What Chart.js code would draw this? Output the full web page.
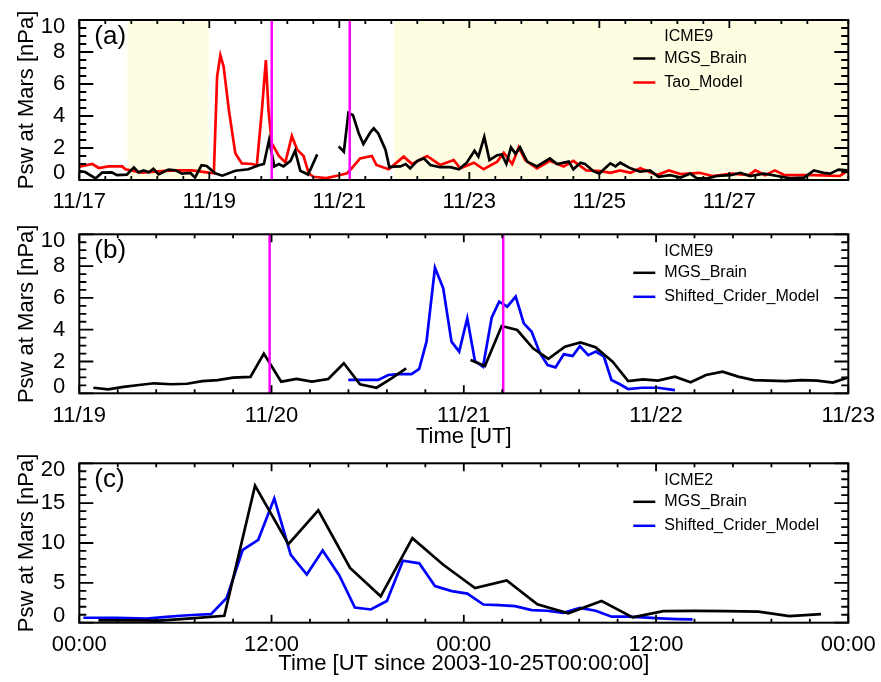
<!DOCTYPE html>
<html>
<head>
<meta charset="utf-8">
<script src="https://cdn.jsdelivr.net/npm/chart.js@4.4.0/dist/chart.umd.min.js"></script>
<style>
  html, body { margin: 0; padding: 0; background: #fff; }
  #wrap { position: relative; width: 881px; height: 682px; }
  #wrap canvas { position: absolute; left: 0; top: 0; }
</style>
</head>
<body>
<div id="wrap">
  <canvas id="chartA" width="881" height="682"></canvas>
  <canvas id="chartB" width="881" height="682"></canvas>
  <canvas id="chartC" width="881" height="682"></canvas>
</div>
<script>
// panel (a): days since 11/17 00:00
const brainA_t = [0,0.09,0.25,0.35,0.5,0.58,0.73,0.84,0.91,0.99,1.07,1.14,1.22,1.37,1.48,1.58,1.71,1.78,1.88,1.96,2.09,2.2,2.4,2.6,2.76,2.84,2.92,3.0,3.07,3.14,3.25,3.32,3.4,3.48,3.52,3.66,3.8,3.99,4.07,4.14,4.21,4.3,4.37,4.48,4.53,4.6,4.71,4.77,4.84,4.94,5.02,5.09,5.2,5.3,5.4,5.55,5.71,5.84,5.96,6.08,6.14,6.23,6.31,6.43,6.5,6.57,6.64,6.71,6.78,6.89,7.04,7.24,7.35,7.53,7.6,7.71,7.78,7.91,8.0,8.17,8.25,8.32,8.48,8.63,8.78,8.91,9.09,9.25,9.4,9.5,9.66,9.81,10.02,10.17,10.32,10.53,10.74,10.94,11.15,11.3,11.45,11.55,11.68,11.81];
const brainA_p = [0.56,0.5,0.1,0.46,0.48,0.3,0.33,0.79,0.48,0.6,0.48,0.7,0.35,0.65,0.6,0.4,0.44,0.15,0.92,0.88,0.42,0.27,0.58,0.67,0.92,1.0,2.5,0.85,1.0,0.85,1.2,1.83,0.58,0.42,0.33,1.6,null,2.1,1.77,4.2,4.05,2.9,2.25,3.0,3.23,2.9,1.9,0.8,0.83,0.85,1.0,0.73,1.2,1.35,0.94,0.8,0.8,0.67,1.08,1.83,1.46,2.7,1.25,1.55,1.6,1.0,2.04,1.65,2.04,1.15,0.85,1.35,1.0,1.15,0.67,1.08,1.0,0.55,0.4,1.04,0.85,1.08,0.73,0.52,0.6,0.2,0.3,0.15,0.4,0.1,0.1,0.25,0.3,0.45,0.25,0.4,0.25,0.1,0.15,0.6,0.45,0.4,0.65,0.6];
const taoA_t = [0,0.2,0.3,0.45,0.66,0.71,0.96,1.27,1.48,1.73,1.99,2.07,2.12,2.17,2.22,2.3,2.4,2.5,2.66,2.73,2.81,2.87,2.91,2.96,3.07,3.17,3.27,3.35,3.45,3.53,3.6,3.8,4.0,4.12,4.19,4.32,4.5,4.57,4.76,4.99,5.12,5.35,5.55,5.76,5.86,6.07,6.22,6.43,6.53,6.66,6.76,6.86,7.04,7.24,7.45,7.6,7.8,8.02,8.17,8.32,8.48,8.63,8.89,9.07,9.25,9.54,9.74,10.05,10.3,10.4,10.55,10.7,10.85,11.3,11.7,11.83];
const taoA_p = [0.83,1.0,0.75,0.85,0.85,0.67,0.46,0.55,0.6,0.6,0.46,0.42,6.46,7.8,7.1,4.4,1.67,1.04,1.0,0.9,4.4,7.5,4.4,2.3,1.5,1.1,2.75,1.9,1.5,0.42,0.2,0.12,0.3,0.42,0.73,1.35,1.5,0.94,0.67,1.46,1.0,1.5,0.94,1.25,0.73,1.08,0.67,1.15,1.7,1.0,2.04,1.25,0.73,1.2,0.85,1.2,0.6,0.55,0.45,0.6,0.45,0.73,0.31,0.6,0.37,0.45,0.25,0.4,0.3,0.6,0.3,0.6,0.3,0.3,0.25,0.6];
const shadeA = [[0.74, 1.99], [4.845, 11.83]];
const marksA = [2.96, 4.16];
const labelsA = ['11/17', '11/19', '11/21', '11/23', '11/25', '11/27'];

// panel (b): days since 11/19 00:00
const brainB_t = [0.073,0.15,0.23,0.31,0.39,0.48,0.56,0.64,0.72,0.8,0.89,0.96,1.05,1.13,1.21,1.295,1.376,1.46,1.546,1.624,1.70,1.85,2.035,2.11,2.197,2.278,2.36,2.44,2.526,2.607,2.685,2.774,2.855,2.933,3.01,3.098,3.18,3.26,3.346,3.427,3.509,3.59,3.673,3.757,3.838,3.92,3.994];
const brainB_p = [0.35,0.25,0.4,0.52,0.63,0.57,0.6,0.77,0.83,0.98,1.03,2.5,0.73,0.9,0.73,0.9,1.89,0.57,0.35,0.94,1.57,null,2.1,1.72,4.23,3.98,2.83,2.16,2.93,3.2,2.9,1.99,0.77,0.88,0.8,1.05,0.7,1.15,1.36,1.05,0.83,0.8,0.77,0.83,0.8,0.67,0.98];
const criderB_t = [1.399,1.46,1.555,1.607,1.66,1.728,1.768,1.806,1.85,1.893,1.936,1.976,2.018,2.058,2.1,2.145,2.184,2.226,2.27,2.312,2.353,2.396,2.436,2.477,2.52,2.566,2.604,2.647,2.687,2.729,2.768,2.812,2.855,2.925,3.01,3.098];
const criderB_p = [0.84,0.84,0.84,1.15,1.2,1.2,1.53,3.25,7.9,6.6,3.25,2.62,4.72,2.03,1.67,4.75,5.76,5.45,6.08,4.4,3.87,2.52,1.78,1.63,2.45,2.35,2.97,2.4,2.62,2.3,0.84,0.57,0.27,0.35,0.35,0.2];
const marksB = [0.99, 2.205];
const labelsB = ['11/19', '11/20', '11/21', '11/22', '11/23'];

// panel (c): hours since 2003-10-25 00:00
const brainC_t = [1.19,3.1,5.0,7.0,9.05,10.97,13.05,14.92,16.9,18.81,20.79,22.7,24.7,26.68,28.59,30.52,32.6,34.54,36.45,38.43,40.41,42.39,44.32,46.3];
const brainC_p = [0.3,0.28,0.25,0.55,0.87,17.2,9.85,14.1,6.87,3.31,10.6,7.3,4.34,5.3,2.32,1.17,2.73,0.67,1.45,1.49,1.45,1.4,0.83,1.08];
const criderC_t = [0.25,2.33,4.2,5.25,6.29,7.33,8.22,9.2,10.2,11.17,12.17,13.2,14.2,15.19,16.23,17.2,18.2,19.2,20.2,21.22,22.2,23.25,24.22,25.22,26.2,27.2,28.24,29.2,30.21,31.25,32.23,33.23,34.2,35.2,36.25,37.3,38.28];
const criderC_p = [0.62,0.62,0.5,0.7,0.87,1.0,1.08,3.1,9.14,10.4,15.6,8.5,6.04,9.06,5.92,1.9,1.66,2.73,7.78,7.45,4.6,3.97,3.65,2.28,2.2,2.07,1.58,1.5,1.24,1.86,1.5,0.75,0.75,0.66,0.54,0.46,0.42];
const labelsC = ['00:00', '12:00', '00:00', '12:00', '00:00'];

const FONT = '"Liberation Sans", Arial, Helvetica, sans-serif';
const isMajor = (v, step) => Math.abs(v / step - Math.round(v / step)) < 1e-6;
const pts = (t, p) => t.map((x, i) => ({ x: x, y: p[i] }));

// shading, magenta markers, boxed axes with inward ticks, legend and panel tag
const framePlugin = {
  id: 'frame',
  beforeDatasetsDraw(chart, args, opts) {
    const { ctx, chartArea: a, scales: { x } } = chart;
    ctx.save();
    ctx.fillStyle = '#fffde1';
    (opts.shade || []).forEach(([s, e]) => {
      const x0 = Math.max(a.left, x.getPixelForValue(s));
      const x1 = Math.min(a.right, x.getPixelForValue(e));
      ctx.fillRect(x0, a.top, x1 - x0, a.bottom - a.top);
    });
    ctx.restore();
  },
  afterDatasetsDraw(chart, args, opts) {
    const { ctx, chartArea: a, scales: { x, y } } = chart;
    ctx.save();
    ctx.strokeStyle = '#ff00ff';
    ctx.lineWidth = 2.5;
    (opts.marks || []).forEach(m => {
      const px = x.getPixelForValue(m);
      ctx.beginPath();
      ctx.moveTo(px, a.top);
      ctx.lineTo(px, a.bottom);
      ctx.stroke();
    });

    ctx.strokeStyle = '#000';
    ctx.lineWidth = 1.8;
    ctx.beginPath();
    x.ticks.forEach(t => {
      const px = x.getPixelForValue(t.value);
      const len = isMajor(t.value, opts.xMajor) ? 8 : 4;
      ctx.moveTo(px, a.bottom); ctx.lineTo(px, a.bottom - len);
      ctx.moveTo(px, a.top); ctx.lineTo(px, a.top + len);
    });
    y.ticks.forEach(t => {
      const py = y.getPixelForValue(t.value);
      const len = isMajor(t.value, opts.yMajor) ? 14 : 7;
      ctx.moveTo(a.left, py); ctx.lineTo(a.left + len, py);
      ctx.moveTo(a.right, py); ctx.lineTo(a.right - len, py);
    });
    ctx.stroke();
    ctx.lineWidth = 2;
    ctx.strokeRect(a.left, a.top, a.right - a.left, a.bottom - a.top);

    ctx.fillStyle = '#000';
    ctx.textBaseline = 'middle';
    ctx.font = '26px ' + FONT;
    ctx.fillText(opts.tag, a.left + 15, a.top + 17);

    ctx.font = '16px ' + FONT;
    const lx = a.right - 184;
    ctx.fillText(opts.event, lx, a.top + 17);
    chart.data.datasets.forEach((ds, i) => {
      const ly = a.top + 38.5 + 24 * i;
      ctx.strokeStyle = ds.borderColor;
      ctx.lineWidth = 2.5;
      ctx.beginPath();
      ctx.moveTo(lx - 31, ly);
      ctx.lineTo(lx - 9, ly);
      ctx.stroke();
      ctx.fillText(ds.label, lx, ly);
    });
    ctx.restore();
  }
};

function makePanel(id, cfg) {
  const tickFont = { family: FONT, size: 22 };
  new Chart(document.getElementById(id), {
    type: 'line',
    data: {
      datasets: cfg.series.map(s => ({
        label: s.label,
        data: pts(s.t, s.p),
        borderColor: s.color,
        borderWidth: 2.7,
        pointRadius: 0,
        tension: 0,
        spanGaps: false
      }))
    },
    options: {
      responsive: false,
      animation: false,
      layout: { padding: { left: 0, right: 32.7, top: cfg.top, bottom: 682 - cfg.bottom - cfg.xHeight } },
      plugins: {
        legend: { display: false },
        tooltip: { enabled: false },
        frame: {
          tag: cfg.tag, event: cfg.event, shade: cfg.shade, marks: cfg.marks,
          xMajor: cfg.xMajor, yMajor: cfg.yMajor
        }
      },
      scales: {
        x: {
          type: 'linear',
          min: cfg.xMin, max: cfg.xMax,
          grid: { display: false },
          border: { display: false },
          ticks: {
            stepSize: cfg.xStep,
            autoSkip: false,
            maxRotation: 0,
            padding: 1,
            color: '#000',
            font: tickFont,
            callback: v => isMajor(v, cfg.xMajor) ? (cfg.xLabels[Math.round(v / cfg.xMajor)] || '') : ''
          },
          title: {
            display: !!cfg.xTitle,
            text: cfg.xTitle || '',
            color: '#000',
            font: tickFont,
            padding: { top: 0, bottom: 5 }
          },
          afterFit: s => { s.height = cfg.xHeight; }
        },
        y: {
          min: cfg.yMin, max: cfg.yMax,
          grid: { display: false },
          border: { display: false },
          ticks: {
            stepSize: cfg.yStep,
            autoSkip: false,
            padding: 6,
            color: '#000',
            font: { family: FONT, size: 22, lineHeight: 0.62 },
            callback: v => {
              if (!isMajor(v, cfg.yMajor)) return '';
              if (v === cfg.yMin) return [String(v), ''];
              if (v === cfg.yMax) return ['', String(v)];
              return String(v);
            }
          },
          title: {
            display: true,
            text: 'Psw at Mars [nPa]',
            color: '#000',
            font: tickFont,
            padding: { top: 14, bottom: 0 }
          },
          afterFit: s => { s.width = 79.3; }
        }
      }
    },
    plugins: [framePlugin]
  });
}

makePanel('chartA', {
  tag: '(a)', event: 'ICME9', top: 20, bottom: 180, xHeight: 40,
  xMin: 0, xMax: 11.83, xStep: 0.4, xMajor: 2, xLabels: labelsA,
  yMin: 0, yMax: 10, yStep: 0.5, yMajor: 2,
  shade: shadeA, marks: marksA,
  series: [
    { label: 'MGS_Brain', t: brainA_t, p: brainA_p, color: '#000000' },
    { label: 'Tao_Model', t: taoA_t, p: taoA_p, color: '#ff0000' }
  ]
});

makePanel('chartB', {
  tag: '(b)', event: 'ICME9', top: 234.3, bottom: 393.3, xHeight: 62, xTitle: 'Time [UT]',
  xMin: 0, xMax: 4, xStep: 0.2, xMajor: 1, xLabels: labelsB,
  yMin: 0, yMax: 10, yStep: 0.5, yMajor: 2,
  shade: [], marks: marksB,
  series: [
    { label: 'MGS_Brain', t: brainB_t, p: brainB_p, color: '#000000' },
    { label: 'Shifted_Crider_Model', t: criderB_t, p: criderB_p, color: '#0000ff' }
  ]
});

makePanel('chartC', {
  tag: '(c)', event: 'ICME2', top: 463.3, bottom: 622.7, xHeight: 59.3,
  xTitle: 'Time [UT since 2003-10-25T00:00:00]',
  xMin: 0, xMax: 48, xStep: 2.4, xMajor: 12, xLabels: labelsC,
  yMin: 0, yMax: 20, yStep: 1, yMajor: 5,
  shade: [], marks: [],
  series: [
    { label: 'MGS_Brain', t: brainC_t, p: brainC_p, color: '#000000' },
    { label: 'Shifted_Crider_Model', t: criderC_t, p: criderC_p, color: '#0000ff' }
  ]
});
</script>
</body>
</html>
